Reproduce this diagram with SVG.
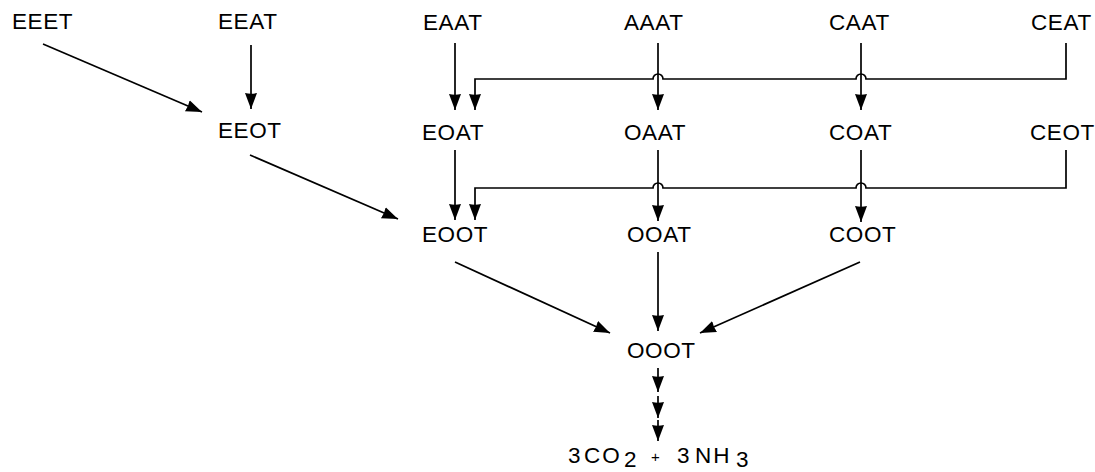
<svg xmlns="http://www.w3.org/2000/svg" width="1095" height="472" viewBox="0 0 1095 472">
<style>
  text { font-family: "Liberation Sans", Arial, sans-serif; font-size: 22.5px; letter-spacing: 0.6px; fill: #000; }
  .c { fill: none; stroke: #000; stroke-width: 1.7; }
  .a { marker-end: url(#ah); }
</style>
<defs>
  <marker id="ah" markerUnits="userSpaceOnUse" markerWidth="18" markerHeight="14" refX="16" refY="6.5" orient="auto">
    <path d="M0,0.5 L16,6.5 L0,12.5 Q1.5,6.5 0,0.5 z" fill="#000"/>
  </marker>
</defs>
<rect width="1095" height="472" fill="#fff"/>
<g id="connectors">
  <path class="c a" d="M43,44 L202,112"/>
  <path class="c a" d="M251,45 V109"/>
  <path class="c a" d="M455,43 V110"/>
  <path class="c a" d="M658,43 V110"/>
  <path class="c a" d="M861,43 V110"/>
  <path class="c a" d="M1066,43 V79 H866 A5,5 0 0 0 856,79 H663 A5,5 0 0 0 653,79 H475 V110"/>
  <path class="c a" d="M250,155 L398,219"/>
  <path class="c a" d="M455,150 V220"/>
  <path class="c a" d="M658,150 V221"/>
  <path class="c a" d="M861,150 V222"/>
  <path class="c a" d="M1066,150 V188 H866 A5,5 0 0 0 856,188 H663 A5,5 0 0 0 653,188 H475 V220"/>
  <path class="c a" d="M455,262 L610,333"/>
  <path class="c a" d="M658,252 V331"/>
  <path class="c a" d="M860,262 L700,333"/>
  <path class="c a" d="M658,368 V392"/>
  <path class="c a" d="M658,396 V418"/>
  <path class="c a" d="M658,420 V441"/>
</g>
<g id="EEET"><text x="12" y="29">EEET</text></g>
<g id="EEAT"><text x="218" y="29">EEAT</text></g>
<g id="EAAT"><text x="423" y="30">EAAT</text></g>
<g id="AAAT"><text x="624" y="30">AAAT</text></g>
<g id="CAAT"><text x="829" y="30">CAAT</text></g>
<g id="CEAT"><text x="1031" y="30">CEAT</text></g>
<g id="EEOT"><text x="218" y="138">EEOT</text></g>
<g id="EOAT"><text x="422" y="140">EOAT</text></g>
<g id="OAAT"><text x="624" y="140">OAAT</text></g>
<g id="COAT"><text x="829" y="140">COAT</text></g>
<g id="CEOT"><text x="1030" y="140">CEOT</text></g>
<g id="EOOT"><text x="422" y="242">EOOT</text></g>
<g id="OOAT"><text x="627" y="242">OOAT</text></g>
<g id="COOT"><text x="829" y="242">COOT</text></g>
<g id="OOOT"><text x="627" y="358">OOOT</text></g>
<g id="products"><text y="463"><tspan x="568">3</tspan><tspan x="584" letter-spacing="2">CO</tspan><tspan x="624" dy="4">2</tspan><tspan x="651" dy="-5" font-size="15">+</tspan><tspan x="677" dy="1">3</tspan><tspan x="695" letter-spacing="2">NH</tspan><tspan x="736" dy="4">3</tspan></text></g>
</svg>
